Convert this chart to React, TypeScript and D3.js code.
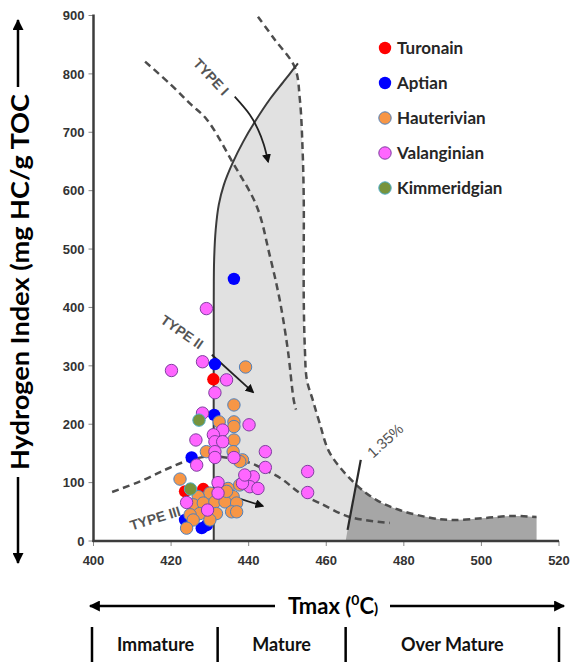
import React from "react";
import * as d3 from "d3";

// ---------- data ----------
const xTicks = [400, 420, 440, 460, 480, 500, 520];
const yTicks = [0, 100, 200, 300, 400, 500, 600, 700, 800, 900];

const seriesNames = ["Turonain", "Aptian", "Hauterivian", "Valanginian", "Kimmeridgian"];

const turonain: [number, number][] = [[430.9, 277], [423.6, 85], [428.3, 89]];
const aptian: [number, number][] = [
  [436.2, 449], [431.3, 303], [431.1, 216], [425.3, 143], [423.6, 36], [427.9, 22], [429.2, 27],
];
const hauterivian: [number, number][] = [
  [439.2, 298], [436.2, 233], [432.4, 204], [436.2, 204], [436.2, 196], [436.2, 173], [429.1, 153],
  [436.0, 153], [438.4, 139], [437.7, 136], [422.3, 106], [434.7, 90], [437.7, 96], [430.0, 82],
  [427.0, 76], [436.0, 76], [425.7, 62], [428.3, 65], [431.3, 67], [433.9, 67], [436.9, 65],
  [427.4, 47], [424.9, 45], [431.7, 47], [435.6, 50], [425.7, 36], [424.0, 22], [430.0, 36],
  [434.3, 85], [436.9, 50],
];
const valanginian: [number, number][] = [
  [429.1, 398], [428.1, 307], [420.1, 292], [434.3, 276], [431.3, 254], [428.1, 219], [440.1, 199],
  [433.3, 190], [430.9, 182], [426.4, 173], [431.3, 170], [433.3, 170], [431.3, 153], [431.3, 143],
  [436.2, 143], [426.6, 130], [444.3, 153], [444.3, 126], [455.2, 119], [455.2, 83], [439.4, 110],
  [441.2, 110], [440.3, 93], [442.4, 90], [438.4, 99], [432.1, 100], [432.1, 82], [424.0, 66],
  [429.4, 53], [439.0, 113],
];
const kimmeridgian: [number, number][] = [[427.2, 207], [425.0, 89]];

const seriesData = [turonain, aptian, hauterivian, valanginian, kimmeridgian];

// kerogen-type guide curves (Tmax, HI)
const typeIBoundary: [number, number][] = [
  [431.0, 0], [431.0, 413], [431.1, 482], [431.5, 533], [432.3, 576], [433.6, 610], [435.9, 648],
  [438.6, 684], [441.6, 718], [445.5, 757], [448.9, 786], [451.9, 811], [452.7, 818],
];
const upperDashed: [number, number][] = [
  [413.3, 821], [419.7, 783], [424.9, 749], [429.2, 722], [435.9, 648], [442.1, 573], [445.4, 490],
  [448.0, 413], [450.1, 327], [451.6, 242], [452.2, 225],
];
const rightDashed: [number, number][] = [
  [442.4, 898], [446.7, 859], [451.9, 811], [453.2, 756], [453.9, 670], [454.2, 585], [454.2, 499],
  [454.2, 413], [454.5, 327], [455.0, 276], [456.5, 242], [458.3, 202], [460.9, 151], [467.3, 99],
  [473.0, 70], [478.9, 53], [485.9, 41], [491.8, 36], [500.3, 39], [508.0, 43], [514.2, 41],
];
const lowerDashed: [number, number][] = [
  [404.8, 84], [412.0, 102], [418.5, 122], [424.0, 137], [430.0, 145], [435.2, 142], [440.3, 134],
  [444.2, 122], [448.8, 105], [453.2, 82], [458.3, 65], [466.1, 41], [476.4, 31],
];
const vitriniteLine: [number, number][] = [[465.5, 19], [468.9, 139]];
const typeIArrow: [number, number][] = [[436.4, 761], [440.3, 730], [442.4, 705], [443.9, 679], [445.0, 650]];
const typeIIArrow: [number, number][] = [[430.5, 319], [441.1, 255]];
const typeIIIArrow: [number, number][] = [[434.6, 79], [443.6, 60]];

const annotationTexts = ["TYPE I", "TYPE II", "TYPE III", "1.35%"];
const annotationAt: [number, number][] = [[430.3, 795], [422.8, 358], [415.9, 39], [475.2, 172]];
const annotationAngle = [47, 35, -17, -42];

const maturityLabels = ["Immature", "Mature", "Over Mature"];
const maturityBounds = [400, 432, 465, 520];

// ---------- styles ----------
const seriesStyles = [
  { fill: "#FF0000", stroke: "none" },
  { fill: "#0000FF", stroke: "none" },
  { fill: "#F79646", stroke: "#4F81BD" },
  { fill: "#FF66FF", stroke: "#7F3FA0" },
  { fill: "#77933C", stroke: "#4BACC6" },
];

const W = 572;
const H = 665;
const PLOT = { left: 93.5, right: 559, top: 15.5, bottom: 541 };
const CAL = "Lato, 'Open Sans', sans-serif";
const ARIAL = "'Liberation Sans', Arial, sans-serif";

export default function App() {
  const x = d3.scaleLinear().domain([400, 520]).range([PLOT.left, PLOT.right]);
  const y = d3.scaleLinear().domain([0, 900]).range([PLOT.bottom, PLOT.top]);

  const smooth = d3
    .line<[number, number]>()
    .x((d) => x(d[0]))
    .y((d) => y(d[1]))
    .curve(d3.curveCatmullRom.alpha(0.5));
  const straight = d3
    .line<[number, number]>()
    .x((d) => x(d[0]))
    .y((d) => y(d[1]));

  const join = (...parts: string[]) =>
    parts.map((p, i) => (i === 0 ? p : p.replace(/^M/, "L"))).join("") + "Z";

  const lightFill = join(
    smooth(typeIBoundary.slice(0, 12)) as string,
    smooth(rightDashed.slice(2)) as string,
    straight([[514.2, 41], [514.2, 0], [431.0, 0]]) as string
  );
  const darkFill = join(
    straight([[465.0, 0], [467.6, 99]]) as string,
    smooth(rightDashed.slice(13)) as string,
    straight([[514.2, 41], [514.2, 0]]) as string
  );

  const dash = "7,4.5";
  const guideColor = "#4d4d4d";

  return (
    <svg
      width={W}
      height={H}
      style={{ position: "absolute", left: 0, top: 0, background: "#fff" }}
    >
      <defs>
        <marker id="ah" viewBox="0 0 10 10" refX="8" refY="5" markerWidth="9" markerHeight="9" markerUnits="userSpaceOnUse" orient="auto">
          <path d="M0,0 L10,5 L0,10 Z" fill="#111" />
        </marker>
        <marker id="ahBig" viewBox="0 0 10 10" refX="9" refY="5" markerWidth="12" markerHeight="11" markerUnits="userSpaceOnUse" orient="auto">
          <path d="M0,0 L10,5 L0,10 Z" fill="#000" />
        </marker>
      </defs>

      <path d={lightFill} fill="#e1e1e1" />
      <path d={darkFill} fill="#a6a6a6" />

      <path d={smooth(upperDashed) as string} fill="none" stroke={guideColor} strokeWidth={2.5} strokeDasharray={dash} />
      <path d={smooth(rightDashed) as string} fill="none" stroke={guideColor} strokeWidth={2.5} strokeDasharray={dash} />
      <path d={smooth(lowerDashed) as string} fill="none" stroke={guideColor} strokeWidth={2.5} strokeDasharray={dash} />
      <path d={smooth(typeIBoundary) as string} fill="none" stroke="#3a3a3a" strokeWidth={2} />
      <path d={straight(vitriniteLine) as string} fill="none" stroke="#2a2a2a" strokeWidth={2.2} />

      <path d={smooth(typeIArrow) as string} fill="none" stroke="#222" strokeWidth={1.8} markerEnd="url(#ah)" />
      <path d={straight(typeIIArrow) as string} fill="none" stroke="#222" strokeWidth={1.8} markerEnd="url(#ah)" />
      <path d={straight(typeIIIArrow) as string} fill="none" stroke="#222" strokeWidth={1.8} markerEnd="url(#ah)" />

      {annotationTexts.map((t, i) => (
        <text
          key={t}
          transform={`translate(${x(annotationAt[i][0])},${y(annotationAt[i][1])}) rotate(${annotationAngle[i]})`}
          textAnchor="middle"
          dy="0.35em"
          fontFamily={ARIAL}
          fontWeight={i === 3 ? "normal" : "bold"}
          fontSize={i === 3 ? 15 : 14}
          fill="#555"
        >
          {t}
        </text>
      ))}

      {yTicks.map((t) => (
        <g key={"y" + t}>
          <line x1={PLOT.left - 5} x2={PLOT.left} y1={y(t)} y2={y(t)} stroke="#888" strokeWidth={1} />
          <text x={PLOT.left - 9} y={y(t)} dy="0.36em" textAnchor="end" fontFamily={ARIAL} fontWeight="bold" fontSize={13} fill="#333">
            {t}
          </text>
        </g>
      ))}
      {xTicks.map((t) => (
        <g key={"x" + t}>
          <line x1={x(t)} x2={x(t)} y1={PLOT.bottom} y2={PLOT.bottom + 5} stroke="#888" strokeWidth={1} />
          <text x={x(t)} y={PLOT.bottom + 24} textAnchor="middle" fontFamily={ARIAL} fontWeight="bold" fontSize={13} fill="#333">
            {t}
          </text>
        </g>
      ))}
      <line x1={PLOT.left} x2={PLOT.left} y1={PLOT.top - 1} y2={PLOT.bottom + 1} stroke="#3c3c3c" strokeWidth={2.5} />
      <line x1={PLOT.left - 1} x2={PLOT.right} y1={PLOT.bottom} y2={PLOT.bottom} stroke="#3c3c3c" strokeWidth={2.5} />

      {seriesData.map((pts, si) => (
        <g key={seriesNames[si]}>
          {pts.map((p, j) => (
            <circle
              key={j}
              cx={x(p[0])}
              cy={y(p[1])}
              r={6.2}
              fill={seriesStyles[si].fill}
              stroke={seriesStyles[si].stroke}
              strokeWidth={1}
            />
          ))}
        </g>
      ))}

      {seriesNames.map((n, i) => (
        <g key={"lg" + n} transform={`translate(385,${48 + i * 35})`}>
          <circle r={6.2} fill={seriesStyles[i].fill} stroke={seriesStyles[i].stroke} strokeWidth={1} />
          <text x={12} dy="0.36em" fontFamily={CAL} fontWeight="bold" fontSize={17} fill="#262626">
            {n}
          </text>
        </g>
      ))}

      <line x1={18} x2={18} y1={87} y2={20} stroke="#000" strokeWidth={2.5} markerEnd="url(#ahBig)" />
      <line x1={18} x2={18} y1={477} y2={563} stroke="#000" strokeWidth={2.5} markerEnd="url(#ahBig)" />
      <text
        transform="translate(20,282) rotate(-90)"
        textAnchor="middle"
        dy="0.35em"
        fontFamily={CAL}
        fontWeight="bold"
        fontSize={25}
        textLength={376}
        lengthAdjust="spacingAndGlyphs"
        fill="#000"
      >
        Hydrogen Index (mg HC/g TOC
      </text>

      <line x1={275} x2={90} y1={606} y2={606} stroke="#000" strokeWidth={2.5} markerEnd="url(#ahBig)" />
      <line x1={390} x2={564} y1={606} y2={606} stroke="#000" strokeWidth={2.5} markerEnd="url(#ahBig)" />
      <text x={333} y={614} textAnchor="middle" fontFamily={CAL} fontWeight="bold" fontSize={22} fill="#000">
        Tmax (<tspan fontSize={14} dy={-9}>0</tspan>
        <tspan dy={9}>C</tspan>
        <tspan fontSize={15}>)</tspan>
      </text>

      {maturityBounds.map((b, i) => (
        <line key={"mb" + i} x1={x(b) - (i === 0 ? 1.5 : 0)} x2={x(b) - (i === 0 ? 1.5 : 0)} y1={627} y2={662} stroke="#000" strokeWidth={2.5} />
      ))}
      {maturityLabels.map((m, i) => (
        <text
          key={m}
          x={(x(maturityBounds[i]) + x(maturityBounds[i + 1])) / 2}
          y={651}
          textAnchor="middle"
          fontFamily={CAL}
          fontWeight="bold"
          fontSize={18}
          fill="#111"
        >
          {m}
        </text>
      ))}
    </svg>
  );
}
